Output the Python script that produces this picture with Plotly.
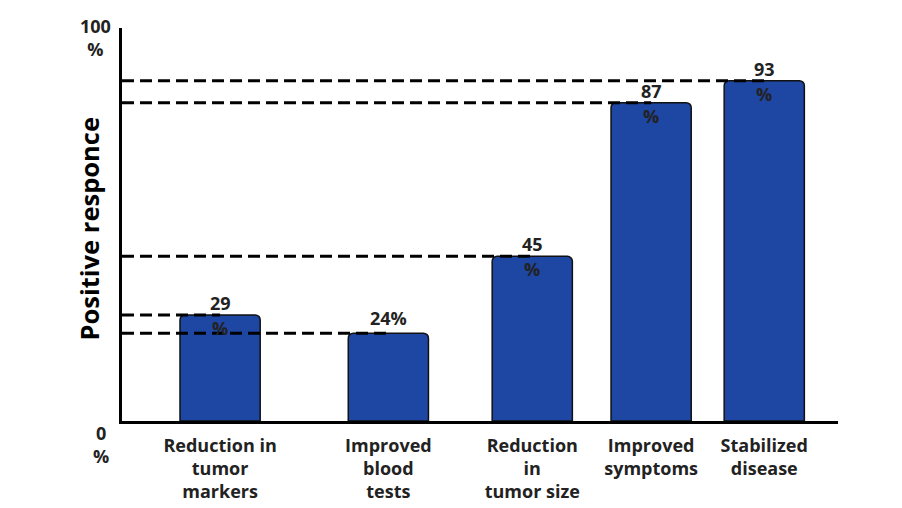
import plotly.graph_objects as go

# ---- data ----
categories = [
    "Reduction in<br>tumor<br>markers",
    "Improved<br>blood<br>tests",
    "Reduction<br>in<br>tumor size",
    "Improved<br>symptoms",
    "Stabilized<br>disease",
]
values = [29, 24, 45, 87, 93]
value_labels = ["29<br>%", "24%", "45<br>%", "87<br>%", "93<br>%"]
y_tick_labels = ["0<br>%", "100<br>%"]

# ---- layout constants (positions / styles) ----
X_RANGE = [0, 10]
BAR_X = [1.37, 3.72, 5.73, 7.39, 8.97]
BAR_W = 1.12
Y_RANGE = [0, 107.4]
BAR_COLOR = "#1e46a3"
FONT = "Open Sans"
TXT = "#222222"

fig = go.Figure()
fig.add_trace(go.Bar(
    x=BAR_X, y=values, width=BAR_W,
    marker=dict(color=BAR_COLOR, line=dict(color="#111111", width=1.5), cornerradius=5),
    hoverinfo="skip",
))

shapes = []
annotations = []
lab_font = dict(family=FONT, size=18, color=TXT, weight=700)
for xc, v, lab in zip(BAR_X, values, value_labels):
    shapes.append(dict(type="line", xref="x", yref="y", x0=X_RANGE[0], x1=xc,
                       y0=v, y1=v, layer="above",
                       line=dict(color="black", width=3, dash="12px,6px")))
    parts = lab.split("<br>")
    if len(parts) == 2:
        annotations.append(dict(x=xc, y=v, xref="x", yref="y", text=parts[0],
                                showarrow=False, xanchor="center", yanchor="bottom", yshift=-2,
                                font=lab_font))
        annotations.append(dict(x=xc, y=v, xref="x", yref="y", text=parts[1],
                                showarrow=False, xanchor="center", yanchor="top", yshift=1,
                                font=lab_font))
    else:
        annotations.append(dict(x=xc, y=v, xref="x", yref="y", text=lab,
                                showarrow=False, xanchor="center", yanchor="bottom", yshift=1,
                                font=lab_font))

# y-axis end labels
annotations.append(dict(x=-0.037, y=1.0, xref="paper", yref="paper", text=y_tick_labels[1],
                        showarrow=False, xanchor="center", yanchor="top", yshift=16,
                        font=dict(family=FONT, size=18, color=TXT, weight=700)))
annotations.append(dict(x=-0.029, y=0.0, xref="paper", yref="paper", text=y_tick_labels[0],
                        showarrow=False, xanchor="center", yanchor="top", yshift=2,
                        font=dict(family=FONT, size=18, color=TXT, weight=700)))
# y-axis title
annotations.append(dict(x=-0.046, y=0.49, xref="paper", yref="paper", text="Positive responce",
                        showarrow=False, xanchor="center", yanchor="middle", textangle=-90,
                        font=dict(family=FONT, size=25.5, color="black", weight=700)))

fig.update_layout(
    width=902, height=508,
    margin=dict(l=114, r=72, t=20, b=95),
    paper_bgcolor="white", plot_bgcolor="white",
    showlegend=False,
    shapes=shapes, annotations=annotations,
    xaxis=dict(range=X_RANGE, tickvals=BAR_X, ticktext=categories,
               showline=True, linecolor="black", linewidth=3,
               showgrid=False, zeroline=False, ticks="", ticklabelstandoff=6,
               tickfont=dict(family=FONT, size=18, color=TXT, weight=700)),
    yaxis=dict(range=Y_RANGE, showticklabels=False, showline=True,
               linecolor="black", linewidth=3, showgrid=False, zeroline=False, ticks=""),
)

fig.write_html("out.html")
